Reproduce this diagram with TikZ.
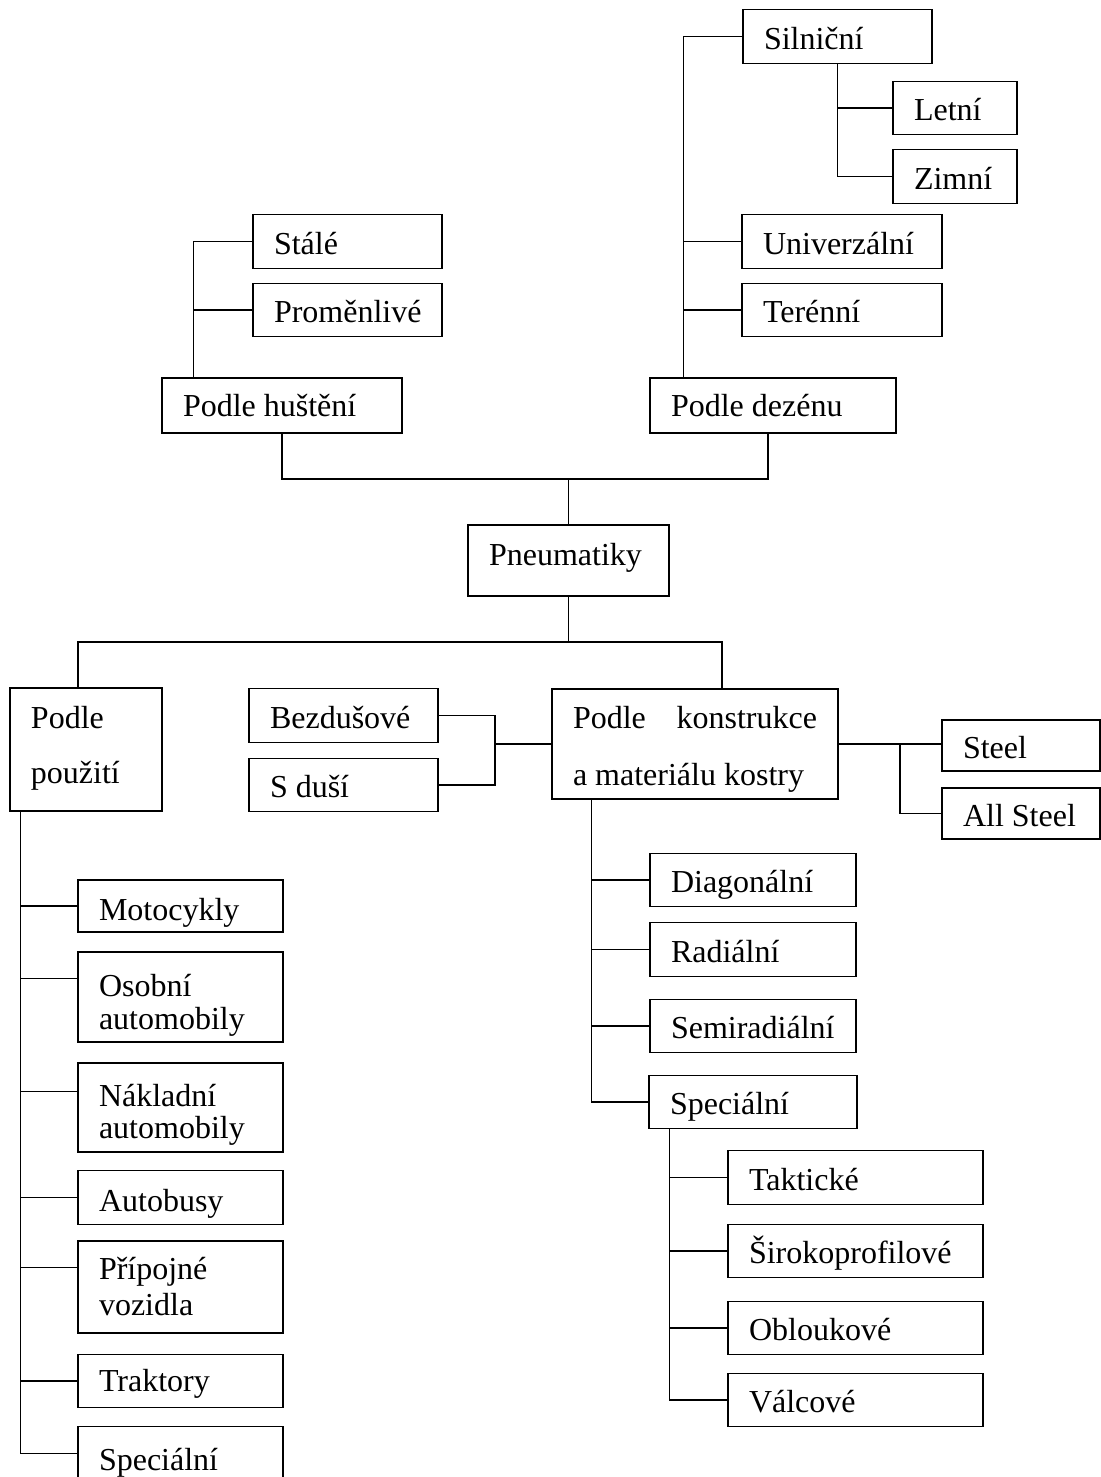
\documentclass[tikz,border=0pt]{standalone}
\usepackage{fontspec}
\setmainfont{Liberation Serif}
\hyphenpenalty=10000
\exhyphenpenalty=10000

\begin{document}
\begin{tikzpicture}[x=0.5pt, y=-0.5pt, line width=0.7pt,
    box/.style={draw, rectangle, inner xsep=10.5pt, inner ysep=0pt, align=flush left,
      text width=#1, minimum height=26.75pt, text height=16.4pt, text depth=3.6pt,
      font=\fontsize{16pt}{19pt}\selectfont},
    tx/.style 2 args={text height=#1, text depth=#2},
    lines/.style={font=\fontsize{16pt}{#1}\selectfont}]
  \useasboundingbox (0,0) rectangle (1101,1477);
  \clip (0,0) rectangle (1101,1477);

  \node[box=73.5pt] (silnicni) at (837.5,36.5) {Silniční};
  \node[box=41pt] (letni) at (955,108) {Letní};
  \node[box=41pt] (zimni) at (955,176.5) {Zimní};
  \node[box=79pt] (univ) at (842,241.5) {Univerzální};
  \node[box=79pt] (terenni) at (842,310) {Terénní};
  \node[box=73.5pt] (stale) at (347.5,241.5) {Stálé};
  \node[box=73.5pt] (promen) at (347.5,310) {Proměnlivé};
  \node[box=99pt, minimum height=27.5pt, tx={15.6pt}{4.4pt}] (hustleni) at (282,405.5) {Podle huštění};
  \node[box=102pt, minimum height=27.5pt, tx={15.6pt}{4.4pt}] (dezen) at (773,405.5) {Podle dezénu};
  \node[box=79.5pt, minimum height=35.5pt, tx={12.4pt}{7.6pt}] (pneu) at (568.5,560.5) {Pneumatiky};

  \node[box=55pt, minimum height=61.5pt, tx={4.4pt}{25.6pt}, lines=27.5pt] (pouziti) at (86,749.5) {Podle\\použití};
  \node[box=73.5pt] (bezdus) at (343.5,715.5) {Bezdušové};
  \node[box=73.5pt] (sdusi) at (343.5,785) {S duší};
  \node[box=122pt, align=justify, minimum height=55pt, tx={2.15pt}{17.85pt}, lines=28.5pt] (konstr) at (695,744) {Podle konstrukce a~materiálu kostry};
  \node[box=58pt, minimum height=25.5pt] (steel) at (1021,745.5) {Steel};
  \node[box=58pt, minimum height=25.5pt] (allsteel) at (1021,813.5) {All Steel};

  \node[box=82pt] (diag) at (753,880) {Diagonální};
  \node[box=82pt] (radial) at (753,949.5) {Radiální};
  \node[box=82pt] (semirad) at (753,1026) {Semiradiální};
  \node[box=83pt] (specR) at (753,1102) {Speciální};
  \node[box=106.5pt] (taktic) at (855.5,1177.5) {Taktické};
  \node[box=106.5pt] (sirok) at (855.5,1251) {Širokoprofilové};
  \node[box=106.5pt] (oblouk) at (855.5,1328) {Obloukové};
  \node[box=106.5pt] (valc) at (855.5,1400) {Válcové};

  \node[box=81.5pt, minimum height=26pt, tx={17pt}{3pt}] (moto) at (180.5,906) {Motocykly};
  \node[box=81.5pt, minimum height=45pt, tx={9.5pt}{10.5pt}, lines=16.5pt] (osob) at (180.5,997) {Osobní\\automobily};
  \node[box=81.5pt, minimum height=44.5pt, tx={9.6pt}{10.4pt}, lines=16pt] (naklad) at (180.5,1107.5) {Nákladní\\automobily};
  \node[box=81.5pt, tx={17pt}{3pt}] (autob) at (180.5,1197.5) {Autobusy};
  \node[box=81.5pt, minimum height=46pt, tx={6.15pt}{13.85pt}, lines=18pt] (pripoj) at (180.5,1287) {Přípojné\\vozidla};
  \node[box=81.5pt, tx={15.35pt}{4.65pt}] (trakt) at (180.5,1381) {Traktory};
  \node[box=81.5pt, tx={18.25pt}{1.75pt}] (specL) at (180.5,1453.5) {Speciální};

  \coordinate (dt) at ([xshift=17pt]dezen.north west);
  \coordinate (ht) at ([xshift=16pt]hustleni.north west);
  \coordinate (jtop) at (568,479);
  \coordinate (jbot) at (568,642);
  \coordinate (bj) at (495,744);
  \coordinate (sj) at (900,744);
  \coordinate (kb) at ([xshift=20pt]konstr.south west);
  \coordinate (sb) at ([xshift=10.5pt]specR.south west);
  \coordinate (pb) at ([xshift=5.5pt]pouziti.south west);
  \coordinate (os) at ([yshift=-13.5pt]osob.north west);
  \coordinate (na) at ([yshift=-14.5pt]naklad.north west);
  \coordinate (pr) at ([yshift=-13.5pt]pripoj.north west);

  \begin{scope}[-]
    \draw (dt) |- (silnicni.west);
    \draw (univ.west) -- (univ.west -| dt);
    \draw (terenni.west) -- (terenni.west -| dt);
    \draw (silnicni.south) |- (zimni.west);
    \draw (letni.west) -- (letni.west -| silnicni.south);
    \draw (ht) |- (stale.west);
    \draw (promen.west) -- (promen.west -| ht);
    \draw (hustleni.south) |- (jtop) -| ([xshift=-2.5pt]dezen.south);
    \draw (pneu.north) -- (pneu.north |- jtop);
    \draw (pneu.south) -- (pneu.south |- jbot);
    \draw ([xshift=-4pt]pouziti.north) |- (jbot) -| ([xshift=13.5pt]konstr.north);
    \draw (bezdus.east) -| (bj) |- (sdusi.east);
    \draw (bj) -- (konstr.west);
    \draw (konstr.east) -- (konstr.east -| steel.west);
    \draw (sj) |- (allsteel.west);
    \draw (kb) |- (specR.west);
    \draw (diag.west) -- (diag.west -| kb);
    \draw (radial.west) -- (radial.west -| kb);
    \draw (semirad.west) -- (semirad.west -| kb);
    \draw (sb) |- (valc.west);
    \draw (taktic.west) -- (taktic.west -| sb);
    \draw (sirok.west) -- (sirok.west -| sb);
    \draw (oblouk.west) -- (oblouk.west -| sb);
    \draw (pb) |- (specL.west);
    \draw (moto.west) -- (moto.west -| pb);
    \draw (os) -- (os -| pb);
    \draw (na) -- (na -| pb);
    \draw (autob.west) -- (autob.west -| pb);
    \draw (pr) -- (pr -| pb);
    \draw (trakt.west) -- (trakt.west -| pb);
  \end{scope}
\end{tikzpicture}
\end{document}
